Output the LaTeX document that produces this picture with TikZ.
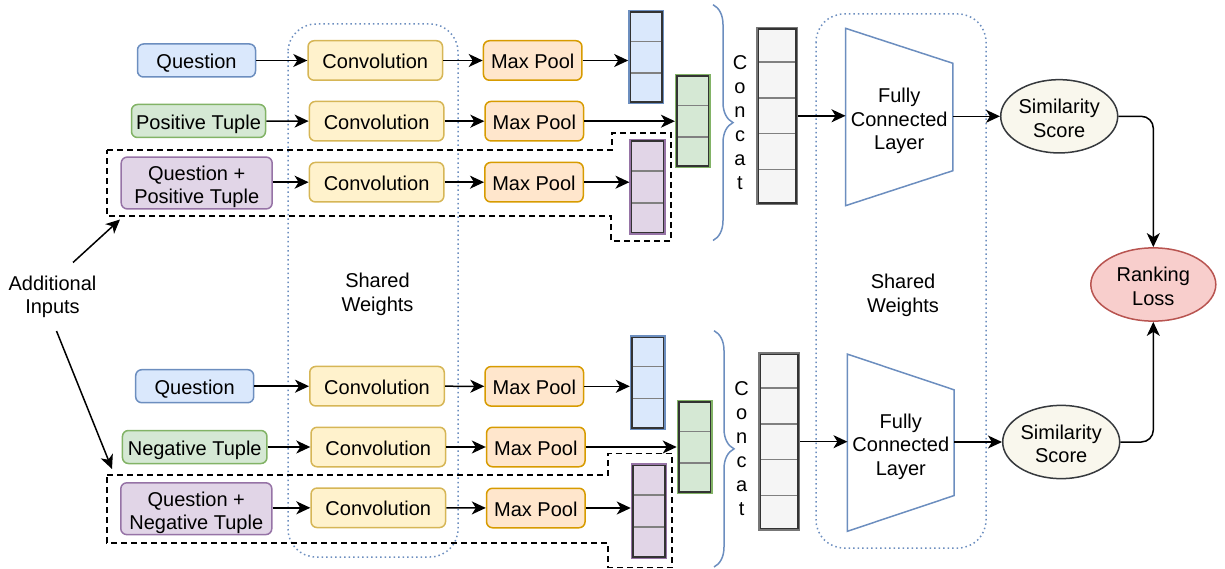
\documentclass[tikz,border=0pt]{standalone}
\usepackage{fontspec}
\setmainfont{Liberation Sans}
\usetikzlibrary{arrows.meta,calc,decorations.pathreplacing,shapes.geometric}
\definecolor{bluF}{HTML}{DAE8FC}\definecolor{bluS}{HTML}{6C8EBF}
\definecolor{grnF}{HTML}{D5E8D4}\definecolor{grnS}{HTML}{82B366}
\definecolor{purF}{HTML}{E1D5E7}\definecolor{purS}{HTML}{9673A6}
\definecolor{yelF}{HTML}{FFF2CC}\definecolor{yelS}{HTML}{D6B656}
\definecolor{orgF}{HTML}{FFE6CC}\definecolor{orgS}{HTML}{D79B00}
\definecolor{gryF}{HTML}{F5F5F5}\definecolor{gryS}{HTML}{777777}
\definecolor{simF}{HTML}{F9F7ED}\definecolor{simS}{HTML}{36393D}
\definecolor{redF}{HTML}{F8CECC}\definecolor{redS}{HTML}{B85450}
\newcommand\myfs{\fontsize{20}{23.5}\selectfont}
\newcommand\mlA{\rule{0pt}{23.3pt}}
\newcommand\mlB{\rule[-5pt]{0pt}{5pt}}
\newcommand\vecinner[2]{%
  \draw[black!80, line width=1.5pt] ([shift={(2.25,2.25)}]#1.north west) rectangle ([shift={(-2.25,-2.25)}]#1.south east);
  \foreach \f in {#2}
    \draw[black!50, line width=1.5pt] ($([xshift=3pt]#1.north west)!\f!([xshift=3pt]#1.south west)$) -- ($([xshift=-3pt]#1.north east)!\f!([xshift=-3pt]#1.south east)$);
}
\begin{document}
\begin{tikzpicture}[x=1pt,y=-1pt,
  base/.style={font=\myfs, inner sep=0pt, align=center},
  one/.style={text height=21.3pt, text depth=5pt},
  rbox/.style={base, rectangle, rounded corners=6pt, line width=1.5pt},
  inq/.style={rbox, fill=bluF, draw=bluS},
  inp/.style={rbox, fill=grnF, draw=grnS},
  inqp/.style={rbox, fill=purF, draw=purS},
  conv/.style={rbox, one, fill=yelF, draw=yelS, minimum width=134.5, minimum height=39.5},
  pool/.style={rbox, one, fill=orgF, draw=orgS, minimum width=98.5, minimum height=39.5},
  vecb/.style={rectangle, inner sep=0pt, line width=3pt, minimum width=33, minimum height=91.5, fill=bluF, draw=bluS},
  vecg/.style={rectangle, inner sep=0pt, line width=3pt, minimum width=33, minimum height=91.5, fill=grnF, draw=grnS},
  vecp/.style={rectangle, inner sep=0pt, line width=3pt, minimum width=33.5, minimum height=93, fill=purF, draw=purS},
  vecc/.style={rectangle, inner sep=0pt, line width=3pt, minimum width=39, minimum height=175.5, fill=gryF, draw=gryS},
  fcbox/.style={base, rectangle, minimum width=107, minimum height=177},
  sim/.style={base, ellipse, inner sep=0pt, line width=1.5pt, fill=simF, draw=simS, minimum width=117, minimum height=66},
  rank/.style={base, ellipse, inner sep=0pt, line width=1.5pt, fill=redF, draw=redS, minimum width=125, minimum height=66},
  shared/.style={draw=bluS, line width=1.5pt, dash pattern=on 1.5pt off 3pt, rounded corners=28pt},
  extra/.style={draw=black, line width=1.5pt, dash pattern=on 6pt off 4pt},
  arr/.style={-{Stealth[length=14pt,width=13pt,inset=4pt]}, line width=1.5pt},
  brc/.style={draw=bluS, line width=1.5pt, decorate, decoration={brace, amplitude=20pt}},
  vtext/.style={base, font=\fontsize{20}{24}\selectfont},
]
\useasboundingbox (0,0) rectangle (1225,569);

% background frames
\draw[shared] (288,24) rectangle (458,557);
\draw[shared] (816,14) rectangle (986,548);
\draw[extra] (107,150) -- (612,150) -- (612,133) -- (671,133) -- (671,241) -- (611,241) -- (611,216) -- (107,216) -- cycle;
\draw[extra] (107,475) -- (608,475) -- (608,453.5) -- (672,453.5) -- (672,567.5) -- (608,567.5) -- (608,543) -- (107,543) -- cycle;

\node[base] (sw1) at (377.5,290.3) {\mlA Shared\\Weights\mlB};
\node[base] (sw2) at (903,291.3) {\mlA Shared\\Weights\mlB};

% ---------- top branch ----------
\node[inq, one, minimum width=118, minimum height=33] (q1) at (196.5,60.5) {Question};
\node[inp, one, minimum width=134, minimum height=33] (p1) at (198.5,121) {Positive Tuple};
\node[inqp, minimum width=151, minimum height=51] (qp1) at (196.7,183) {\mlA Question +\\Positive Tuple\mlB};
\node[conv] (c1a) at (375.3,60.5) {Convolution};
\node[conv] (c1b) at (376.6,121.2) {Convolution};
\node[conv] (c1c) at (376.6,182.2) {Convolution};
\node[pool] (m1a) at (532.7,60.5) {Max Pool};
\node[pool] (m1b) at (534.3,121.2) {Max Pool};
\node[pool] (m1c) at (534,182.2) {Max Pool};
\node[vecb] (v1a) at (646.2,57.2) {};
\node[vecg] (v1b) at (692.9,121.2) {};
\node[vecp] (v1c) at (647.7,187) {};
\vecinner{v1a}{1/3,2/3}
\vecinner{v1b}{1/3,2/3}
\vecinner{v1c}{1/3,2/3}
\draw[brc] (713,4.7) -- (713,240.5);
\node[vtext] (ct1) at (740,120.7) {\mlA C\\o\\n\\c\\a\\t\mlB};
\node[vecc] (g1) at (777.2,115.8) {};
\vecinner{g1}{1/5,2/5,3/5,4/5}
\node[fcbox] (fc1) at (899.2,117) {\mlA Fully\\Connected\\Layer\mlB};
\draw[bluS, line width=1.5pt] (fc1.north west) -- ($(fc1.north east)+(0,35)$) -- ($(fc1.south east)+(0,-35)$) -- (fc1.south west) -- cycle;
\node[sim] (s1) at (1059.2,116.3) {\mlA Similarity\\Score\mlB};

\draw[arr] (q1) -- (c1a);
\draw[arr] (p1) -- (c1b);
\draw[arr] (qp1.east |- c1c) -- (c1c);
\draw[arr] (c1a) -- (m1a);
\draw[arr] (c1b) -- (m1b);
\draw[arr] (c1c) -- (m1c);
\draw[arr] (m1a.east) -- (m1a.east -| v1a.west);
\draw[arr] (m1b.east) -- (m1b.east -| v1b.west);
\draw[arr] (m1c.east) -- (m1c.east -| v1c.west);
\draw[arr] (g1.east) -- (g1.east -| fc1.west);
\draw[arr] (s1.west -| fc1.east) -- (s1.west);

% ---------- bottom branch ----------
\node[inq, one, minimum width=118, minimum height=33] (q2) at (194.7,386.2) {Question};
\node[inp, one, minimum width=144.5, minimum height=33] (n2) at (194.7,447) {Negative Tuple};
\node[inqp, minimum width=151, minimum height=51] (qn2) at (196.3,508.7) {\mlA Question +\\Negative Tuple\mlB};
\node[conv] (c2a) at (377,386.2) {Convolution};
\node[conv] (c2b) at (378.3,447) {Convolution};
\node[conv] (c2c) at (378.3,507.8) {Convolution};
\node[pool] (m2a) at (534.3,386.3) {Max Pool};
\node[pool] (m2b) at (535.8,447) {Max Pool};
\node[pool] (m2c) at (535.8,508) {Max Pool};
\node[vecb, minimum height=92] (v2a) at (647.8,382.5) {};
\node[vecg] (v2b) at (694.7,447.2) {};
\node[vecp] (v2c) at (649,511.2) {};
\vecinner{v2a}{1/3,2/3}
\vecinner{v2b}{1/3,2/3}
\vecinner{v2c}{1/3,2/3}
\draw[brc] (714,330.7) -- (714,567);
\node[vtext] (ct2) at (741.7,446.3) {\mlA C\\o\\n\\c\\a\\t\mlB};
\node[vecc] (g2) at (779.2,441.7) {};
\vecinner{g2}{1/5,2/5,3/5,4/5}
\node[fcbox, minimum width=106.3, minimum height=176.7] (fc2) at (900.8,442.7) {\mlA Fully\\Connected\\Layer\mlB};
\draw[bluS, line width=1.5pt] (fc2.north west) -- ($(fc2.north east)+(0,35.7)$) -- ($(fc2.south east)+(0,-35.7)$) -- (fc2.south west) -- cycle;
\node[sim] (s2) at (1061.2,442) {\mlA Similarity\\Score\mlB};

\draw[arr] (q2) -- (c2a);
\draw[arr] (n2) -- (c2b);
\draw[arr] (qn2.east |- c2c) -- (c2c);
\draw[arr] (c2a) -- (m2a);
\draw[arr] (c2b) -- (m2b);
\draw[arr] (c2c) -- (m2c);
\draw[arr] (m2a.east) -- (m2a.east -| v2a.west);
\draw[arr] (m2b.east) -- (m2b.east -| v2b.west);
\draw[arr] (m2c.east) -- (m2c.east -| v2c.west);
\draw[arr] (g2.east) -- (g2.east -| fc2.west);
\draw[arr] (s2.west -| fc2.east) -- (s2.west);

% ---------- ranking ----------
\node[rank] (rl) at (1153.3,284.5) {\mlA Ranking\\Loss\mlB};
\draw[arr, rounded corners=12pt] (s1.east) -| (rl.north);
\draw[arr, rounded corners=12pt] (s2.east) -| (rl.south);

% ---------- additional inputs ----------
\node[base] (ai) at (52.5,293) {\mlA Additional\\Inputs\mlB};
\coordinate (aiu0) at (73,262.5);
\coordinate (aiu1) at (120,219.5);
\coordinate (aid0) at (56.5,331);
\coordinate (aid1) at (112,469);
\draw[arr] (aiu0) -- (aiu1);
\draw[arr] (aid0) -- (aid1);
\end{tikzpicture}
\end{document}
